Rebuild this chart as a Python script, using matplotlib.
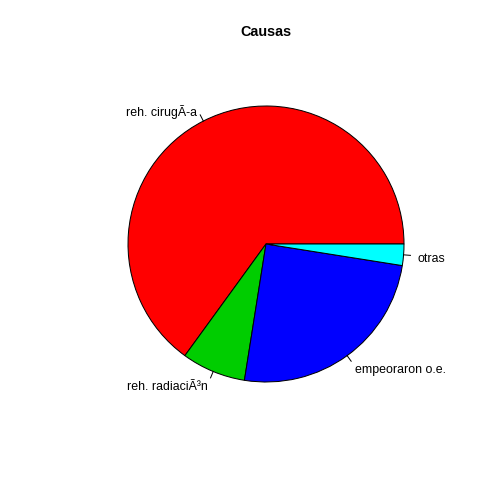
import numpy as np
import matplotlib
matplotlib.use("Agg")
import matplotlib.pyplot as plt
import matplotlib.transforms as mtransforms

labels = ["reh. cirugÃ-a", "reh. radiaciÃ³n", "empeoraron o.e.", "otras"]
counts = [26, 3, 10, 1]
colors = ["#FF0000", "#00CD00", "#0000FF", "#00FFFF"]

plt.rcParams['font.family'] = ['Liberation Sans', 'DejaVu Sans']

W = 504.0
fig = plt.figure(figsize=(7, 7), dpi=72)
# plot region like R's pie: xlim/ylim -1.08..1.08, asp = 1
cx, cy = 266.0, W - 244.0
half = 186.3
ax = fig.add_axes([(cx - half) / W, (cy - half) / W, 2 * half / W, 2 * half / W])

r = 0.8
wedges, texts = ax.pie(counts, colors=colors, radius=r, startangle=0,
                       counterclock=True, labels=labels, labeldistance=1.1,
                       wedgeprops={'edgecolor': 'black', 'linewidth': 1.0},
                       textprops={'fontsize': 12.4})

# R puts the labels a touch lower than matplotlib's centre
shift = mtransforms.ScaledTranslation(0, -3.0 / 72, fig.dpi_scale_trans)
for t in texts:
    t.set_transform(t.get_transform() + shift)

# little tick lines from the rim to the label, like R
frac = np.cumsum([0] + counts) / float(sum(counts))
for i in range(len(counts)):
    mid = 2 * np.pi * (frac[i] + frac[i + 1]) / 2
    x, y = np.cos(mid), np.sin(mid)
    ax.plot([r * x, 1.05 * r * x], [r * y, 1.05 * r * y], color='black', lw=1)

# pie() resets the limits, so set them afterwards
ax.set_xlim(-1.08, 1.08)
ax.set_ylim(-1.08, 1.08)
ax.set_aspect('equal')
ax.axis('off')

fig.text(cx / W, 1 - 32 / W, "Causas", ha='center', va='center',
         fontsize=14.4, fontweight='bold')

fig.savefig("out.png", dpi=72)
